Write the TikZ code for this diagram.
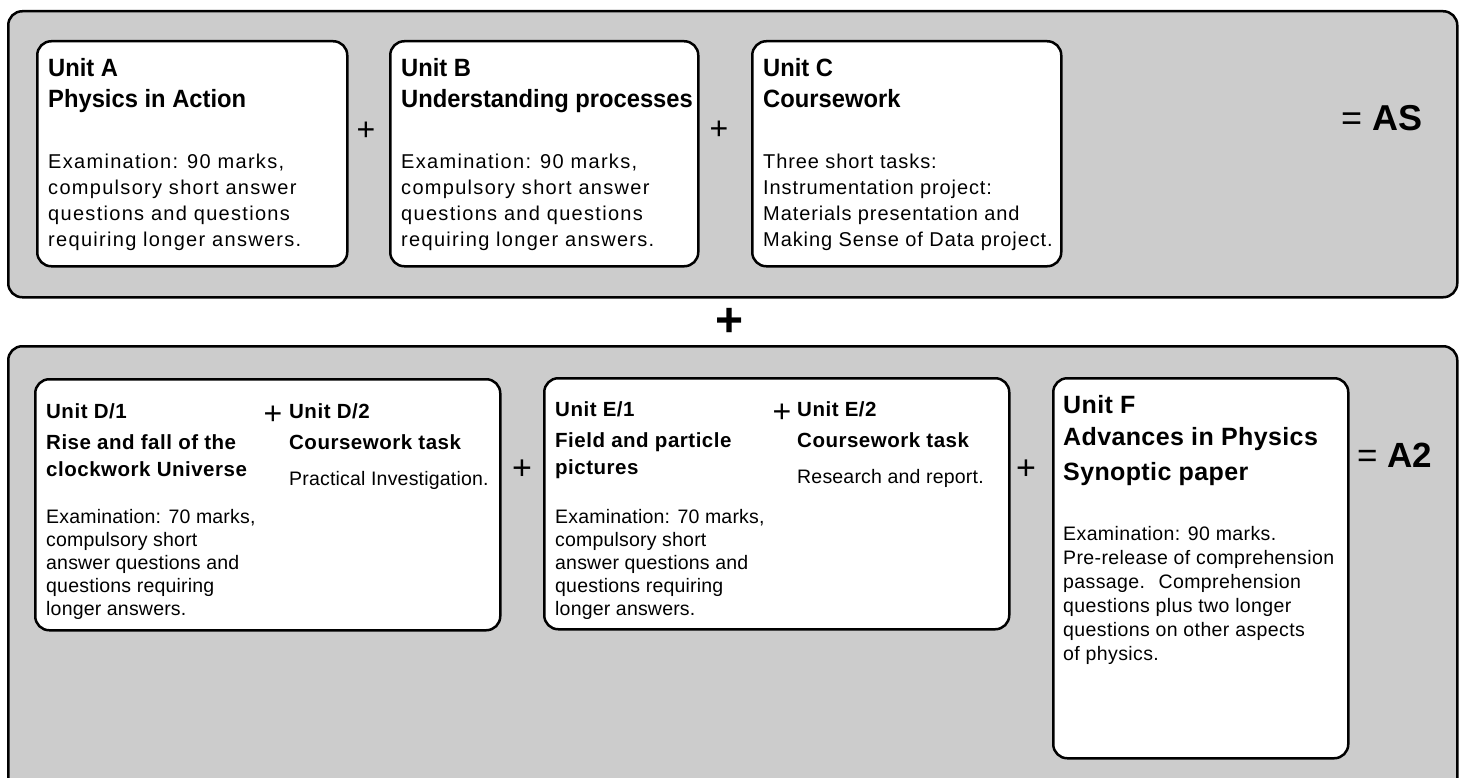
\documentclass[tikz,border=0pt]{standalone}
\usepackage{fontspec}
\setmainfont{Liberation Sans}
\newfontfamily\fTopHead[FakeStretch=0.95]{Liberation Sans}
\newfontfamily\fTopBody[LetterSpace=6.5]{Liberation Sans}
\newfontfamily\fCBody[LetterSpace=4.5]{Liberation Sans}
\newfontfamily\fLowHead[LetterSpace=2.5]{Liberation Sans}
\newfontfamily\fLowBody[LetterSpace=1]{Liberation Sans}
\newfontfamily\fFHead[LetterSpace=1.5]{Liberation Sans}
\newfontfamily\fFBody[LetterSpace=2]{Liberation Sans}
\newcommand\mylines[1]{\begin{tabular}[t]{@{}l@{}}#1\end{tabular}}
\definecolor{panelgray}{RGB}{204,204,204}
\tikzset{
  panel/.style={draw, line width=2.5pt, fill=panelgray, rounded corners=14pt, anchor=north west, inner sep=0pt},
  unitbox/.style={draw, line width=2.5pt, fill=white, rounded corners=14pt, anchor=north west, inner sep=0pt},
  txt/.style={anchor=base west, inner sep=0pt},
  plussign/.style={anchor=center, inner sep=0pt, font=\fontsize{32}{32}\selectfont},
  topbody/.style={txt, font=\fTopBody\fontsize{20}{26}\selectfont},
  tophead/.style={txt, font=\fTopHead\bfseries\fontsize{25}{31}\selectfont},
  lowhead/.style={txt, font=\fLowHead\bfseries\fontsize{20.5}{27}\selectfont},
  lowbody/.style={txt, font=\fLowBody\fontsize{19.5}{23}\selectfont},
}
\begin{document}
\begin{tikzpicture}[x=1pt,y=-1pt]
\clip (0,0) rectangle (1463,778);
% panels
\node[panel, minimum width=1449pt, minimum height=286pt] (aspanel) at (7,10) {};
\node[panel, minimum width=1449pt, minimum height=460pt] (a2panel) at (7,345) {};
% AS units
\node[unitbox, minimum width=310pt, minimum height=225pt] (boxA) at (36,40) {};
\node[unitbox, minimum width=308pt, minimum height=225pt] (boxB) at (389,40) {};
\node[unitbox, minimum width=309pt, minimum height=225pt] (boxC) at (751,40) {};
\node[tophead] (headA) at (48,77) {\mylines{Unit A\\Physics in Action}};
\node[topbody] (bodyA) at (48,168) {\mylines{Examination: 90 marks,\\compulsory short answer\\questions and questions\\requiring longer answers.}};
\node[tophead] (headB) at (401,77) {\mylines{Unit B\\Understanding processes}};
\node[topbody] (bodyB) at (401,168) {\mylines{Examination: 90 marks,\\compulsory short answer\\questions and questions\\requiring longer answers.}};
\node[tophead] (headC) at (763,77) {\mylines{Unit C\\Coursework}};
\node[txt, font=\fCBody\fontsize{20}{26}\selectfont] (bodyC) at (763,168) {\mylines{Three short tasks:\\Instrumentation project:\\Materials presentation and\\Making Sense of Data project.}};
\node[plussign] (plusAB) at (366,131) {+};
\node[plussign] (plusBC) at (719,130) {+};
\node[txt, font=\fontsize{36}{36}\selectfont] (eqAS) at (1341,131) {= \textbf{AS}};
% big plus
\node[anchor=center, inner sep=0pt, font=\bfseries\fontsize{48}{48}\selectfont] (bigplus) at (730,322) {+};
% A2 units
\node[unitbox, minimum width=465pt, minimum height=251pt] (boxD) at (34,378) {};
\node[unitbox, minimum width=465pt, minimum height=251pt] (boxE) at (543,377) {};
\node[unitbox, minimum width=295pt, minimum height=380pt] (boxF) at (1052,377) {};
% D
\node[lowhead] (headD1) at (46,418) {Unit D/1};
\node[lowhead] (titleD1) at (46,449) {\mylines{Rise and fall of the\\clockwork Universe}};
\node[lowbody] (bodyD1) at (46,523) {\mylines{Examination: 70 marks,\\compulsory short\\answer questions and\\questions requiring\\longer answers.}};
\node[plussign] (plusD) at (273,415) {+};
\node[lowhead] (headD2) at (289,418) {Unit D/2};
\node[lowhead] (titleD2) at (289,449) {Coursework task};
\node[lowbody] (bodyD2) at (289,485) {Practical Investigation.};
% E
\node[lowhead] (headE1) at (555,416) {Unit E/1};
\node[lowhead] (titleE1) at (555,447) {\mylines{Field and particle\\pictures}};
\node[lowbody] (bodyE1) at (555,523) {\mylines{Examination: 70 marks,\\compulsory short\\answer questions and\\questions requiring\\longer answers.}};
\node[plussign] (plusE) at (782,413) {+};
\node[lowhead] (headE2) at (797,416) {Unit E/2};
\node[lowhead] (titleE2) at (797,447) {Coursework task};
\node[lowbody] (bodyE2) at (797,483) {Research and report.};
% between
\node[plussign, font=\fontsize{34}{34}\selectfont] (plusDE) at (522,470) {+};
\node[plussign, font=\fontsize{34}{34}\selectfont] (plusEF) at (1026,470) {+};
% F
\node[txt, font=\fFHead\bfseries\fontsize{25}{32}\selectfont] (headF) at (1063,413) {\mylines{Unit F\\Advances in Physics}};
\node[txt, font=\fFHead\bfseries\fontsize{25}{32}\selectfont] (titleF) at (1063,480) {Synoptic paper};
\node[txt, font=\fFBody\fontsize{19.5}{24}\selectfont] (bodyF) at (1063,540) {\mylines{Examination: 90 marks.\\Pre-release of comprehension\\passage. \ Comprehension\\questions plus two longer\\questions on other aspects\\of physics.}};
\node[txt, font=\fontsize{35}{35}\selectfont] (eqA2) at (1357,467) {= \textbf{A2}};
\end{tikzpicture}
\end{document}
